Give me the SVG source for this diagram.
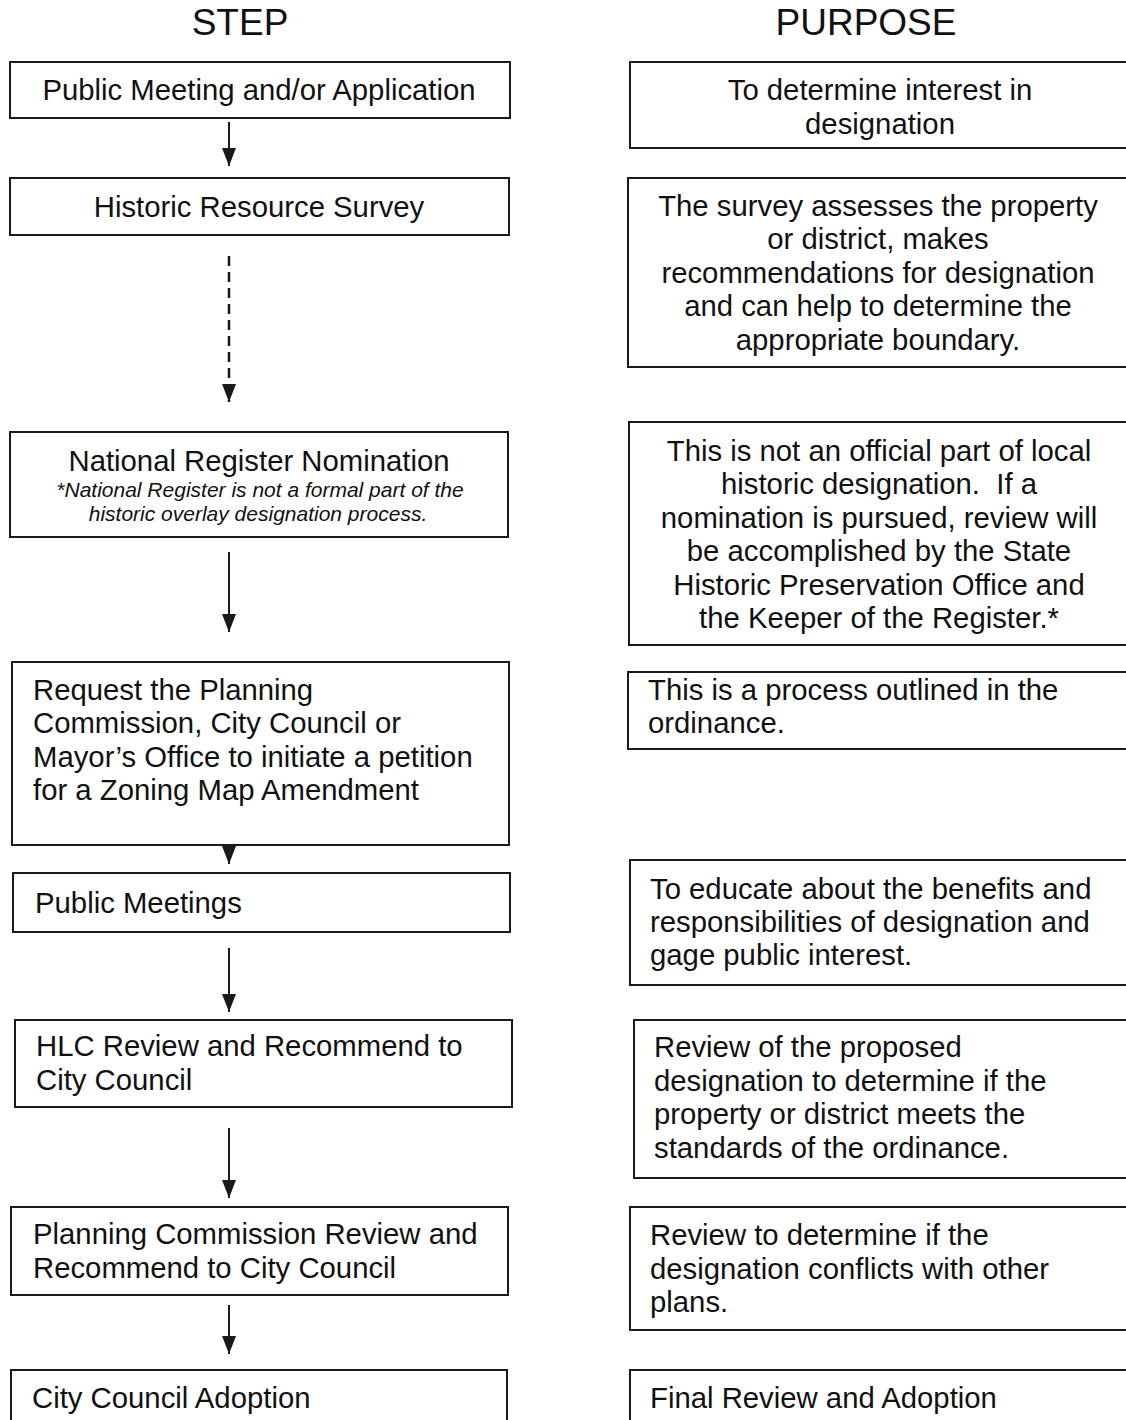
<svg xmlns="http://www.w3.org/2000/svg" width="1126" height="1420" viewBox="0 0 1126 1420">
<style>
.box{fill:#fff;stroke:#1a1a1a;stroke-width:2}
.t{font-family:"Liberation Sans",Arial,sans-serif;font-size:29.3px;fill:#111}
.c{text-anchor:middle}
.h{font-family:"Liberation Sans",Arial,sans-serif;font-size:37px;fill:#111;text-anchor:middle}
.i{font-family:"Liberation Sans",Arial,sans-serif;font-size:21px;font-style:italic;fill:#111;text-anchor:middle}
.ln{stroke:#1a1a1a;stroke-width:2;fill:none}
.dash{stroke-dasharray:10,6;stroke-width:2.5}
</style>
<defs>
<marker id="ah" viewBox="0 0 18 14" refX="18" refY="7" markerWidth="18" markerHeight="14" markerUnits="userSpaceOnUse" orient="auto">
<path d="M0,0 L18,7 L0,14 Z" fill="#1a1a1a"/>
</marker>
</defs>
<rect width="1126" height="1420" fill="#fff"/>
<text class="h" x="240" y="35">STEP</text>
<text class="h" x="866" y="35">PURPOSE</text>

<g id="connectors">
<path class="ln" d="M229,122 V166" marker-end="url(#ah)"/>
<path class="ln dash" d="M229,256 V402" marker-end="url(#ah)"/>
<path class="ln" d="M229,552 V632" marker-end="url(#ah)"/>
<path class="ln" d="M229,845 V864" marker-end="url(#ah)"/>
<path class="ln" d="M229,948 V1012" marker-end="url(#ah)"/>
<path class="ln" d="M229,1128 V1198" marker-end="url(#ah)"/>
<path class="ln" d="M229,1305 V1354" marker-end="url(#ah)"/>
</g>

<g id="step1"><rect class="box" x="10" y="62" width="500" height="56"/>
<text class="t c" x="259" y="100">Public Meeting and/or Application</text></g>
<g id="step2"><rect class="box" x="10" y="178" width="499" height="57"/>
<text class="t c" x="259" y="217">Historic Resource Survey</text></g>
<g id="step3"><rect class="box" x="10" y="432" width="498" height="105"/>
<text class="t c" x="259" y="471">National Register Nomination</text>
<text class="i" x="260" y="497">*National Register is not a formal part of the</text>
<text class="i" x="258" y="521">historic overlay designation process.</text></g>
<g id="step4"><rect class="box" x="12" y="662" width="497" height="183"/>
<text class="t" x="33" y="700">Request the Planning</text>
<text class="t" x="33" y="733">Commission, City Council or</text>
<text class="t" x="33" y="767">Mayor’s Office to initiate a petition</text>
<text class="t" x="33" y="800">for a Zoning Map Amendment</text></g>
<g id="step5"><rect class="box" x="13" y="873" width="497" height="59"/>
<text class="t" x="35" y="913">Public Meetings</text></g>
<g id="step6"><rect class="box" x="15" y="1020" width="497" height="87"/>
<text class="t" x="36" y="1056">HLC Review and Recommend to</text>
<text class="t" x="36" y="1090">City Council</text></g>
<g id="step7"><rect class="box" x="11" y="1207" width="497" height="88"/>
<text class="t" x="33" y="1244">Planning Commission Review and</text>
<text class="t" x="33" y="1278">Recommend to City Council</text></g>
<g id="step8"><rect class="box" x="11" y="1370" width="496" height="60"/>
<text class="t" x="32" y="1408">City Council Adoption</text></g>

<g id="purpose1"><rect class="box" x="630" y="62" width="510" height="86"/>
<text class="t c" x="880" y="100">To determine interest in</text>
<text class="t c" x="880" y="134">designation</text></g>
<g id="purpose2"><rect class="box" x="628" y="178" width="512" height="189"/>
<text class="t c" x="878" y="216">The survey assesses the property</text>
<text class="t c" x="878" y="249">or district, makes</text>
<text class="t c" x="878" y="283">recommendations for designation</text>
<text class="t c" x="878" y="316">and can help to determine the</text>
<text class="t c" x="878" y="350">appropriate boundary.</text></g>
<g id="purpose3"><rect class="box" x="629" y="422" width="511" height="223"/>
<text class="t c" x="879" y="461">This is not an official part of local</text>
<text class="t c" x="879" y="494" xml:space="preserve">historic designation.  If a</text>
<text class="t c" x="879" y="528">nomination is pursued, review will</text>
<text class="t c" x="879" y="561">be accomplished by the State</text>
<text class="t c" x="879" y="595">Historic Preservation Office and</text>
<text class="t c" x="879" y="628">the Keeper of the Register.*</text></g>
<g id="purpose4"><rect class="box" x="628" y="672" width="512" height="77"/>
<text class="t" x="648" y="700">This is a process outlined in the</text>
<text class="t" x="648" y="733">ordinance.</text></g>
<g id="purpose5"><rect class="box" x="630" y="860" width="510" height="125"/>
<text class="t" x="650" y="899">To educate about the benefits and</text>
<text class="t" x="650" y="932">responsibilities of designation and</text>
<text class="t" x="650" y="965">gage public interest.</text></g>
<g id="purpose6"><rect class="box" x="634" y="1020" width="506" height="158"/>
<text class="t" x="654" y="1057">Review of the proposed</text>
<text class="t" x="654" y="1091">designation to determine if the</text>
<text class="t" x="654" y="1124">property or district meets the</text>
<text class="t" x="654" y="1158">standards of the ordinance.</text></g>
<g id="purpose7"><rect class="box" x="630" y="1207" width="510" height="123"/>
<text class="t" x="650" y="1245">Review to determine if the</text>
<text class="t" x="650" y="1279">designation conflicts with other</text>
<text class="t" x="650" y="1312">plans.</text></g>
<g id="purpose8"><rect class="box" x="630" y="1370" width="510" height="60"/>
<text class="t" x="650" y="1408">Final Review and Adoption</text></g>
</svg>
